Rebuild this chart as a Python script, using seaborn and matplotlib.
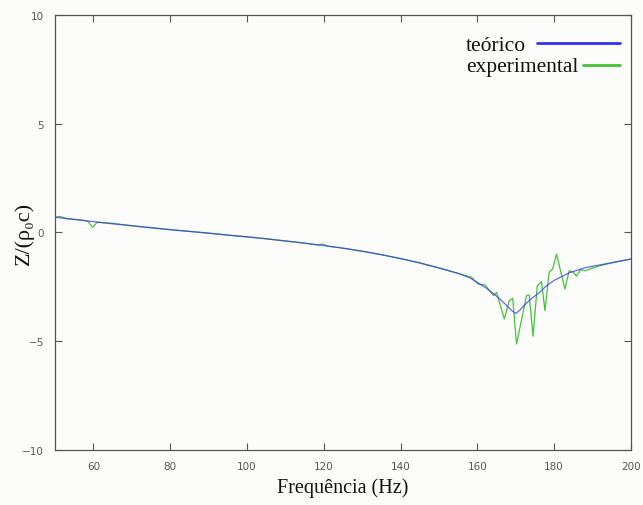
import matplotlib
matplotlib.use("Agg")
import matplotlib.pyplot as plt
import seaborn as sns
import pandas as pd
from matplotlib.lines import Line2D

# theoretical curve
teo_freq = [50, 55, 60, 65, 70, 75, 80, 85, 90, 95, 100, 105, 110, 115, 120,
            125, 130, 135, 140, 145, 150, 155, 158, 160, 162, 164, 166, 168,
            169, 170, 171, 172, 174, 176, 178, 180, 184, 188, 194, 200]
teo_z = [0.70, 0.60, 0.50, 0.40, 0.31, 0.22, 0.13, 0.05, -0.03, -0.12, -0.20,
         -0.29, -0.39, -0.49, -0.60, -0.72, -0.86, -1.02, -1.20, -1.40, -1.63,
         -1.88, -2.08, -2.30, -2.52, -2.78, -3.08, -3.42, -3.60, -3.72, -3.58,
         -3.38, -3.05, -2.78, -2.45, -2.20, -1.85, -1.62, -1.42, -1.22]

# experimental measurement
exp_freq = [50, 51.3, 53, 57, 58.5, 59.8, 61, 63, 65, 70, 75, 80, 85, 90, 95,
            100, 105, 110, 115, 118.5, 119.7, 121, 125, 130, 135, 140, 145,
            150, 155.5, 158.5, 160.2, 162.0, 164.2, 165.0, 167.0, 168.3, 169.2,
            170.2, 172.8, 173.5, 174.5, 175.6, 176.7, 177.6, 178.7, 179.6,
            180.6, 182.8, 183.9, 185.0, 185.8, 186.9, 188.0, 189.3, 192, 196, 200]
exp_z = [0.70, 0.74, 0.64, 0.57, 0.52, 0.24, 0.47, 0.45, 0.42, 0.31, 0.22,
         0.13, 0.05, -0.03, -0.12, -0.20, -0.29, -0.39, -0.49, -0.58, -0.53,
         -0.63, -0.72, -0.86, -1.02, -1.20, -1.40, -1.63, -1.91, -2.06, -2.37,
         -2.41, -2.90, -2.75, -3.98, -3.13, -3.03, -5.13, -2.90, -2.87, -4.77,
         -2.45, -2.26, -3.59, -1.83, -1.68, -0.99, -2.60, -1.76, -1.83, -2.01,
         -1.71, -1.76, -1.68, -1.52, -1.36, -1.22]

teo = pd.DataFrame({"freq": teo_freq, "z": teo_z})
exp = pd.DataFrame({"freq": exp_freq, "z": exp_z})

sns.set_theme(style="ticks")
bg = "#fcfcfa"
fig = plt.figure(figsize=(6.43, 5.06), dpi=100, facecolor=bg)
ax = fig.add_axes([0.0855, 0.1087, 0.8958, 0.8597])
ax.set_facecolor(bg)

green = "#44c23a"
blue = "#3434ee"
sns.lineplot(data=exp, x="freq", y="z", ax=ax, color=green, linewidth=0.9,
             estimator=None, sort=False)
sns.lineplot(data=teo, x="freq", y="z", ax=ax, color=blue, linewidth=0.9,
             alpha=0.75, estimator=None, sort=False)

ax.set_xlim(50, 200)
ax.set_ylim(-10, 10)
ax.set_xticks([60, 80, 100, 120, 140, 160, 180, 200])
ax.set_yticks([-10, -5, 0, 5, 10])
ax.set_yticklabels(["\u221210", "\u22125", "0", "5", "10"])
ax.tick_params(direction="in", length=5, width=0.8, color="#555555",
               labelsize=7.5, labelcolor="#555555", pad=8,
               top=True, right=True)
for s in ax.spines.values():
    s.set_color("#555555")
    s.set_linewidth(0.9)

serif = ["Liberation Serif", "DejaVu Serif"]
ax.set_xlabel("Frequência (Hz)", family=serif, fontsize=14.5, color="#111111")
ax.xaxis.set_label_coords(0.5, -0.062)
ax.set_ylabel("Z/(ρ\u2080c)", family=serif, fontsize=16, color="#111111")
ax.yaxis.set_label_coords(-0.037, 0.5)

# gnuplot-style key, text left and sample line right
ax.text(0.713, 0.931, "teórico", transform=ax.transAxes, family=serif,
        fontsize=15.5, va="center", ha="left", color="#111111")
ax.text(0.713, 0.881, "experimental", transform=ax.transAxes, family=serif,
        fontsize=15.5, va="center", ha="left", color="#111111")
ax.add_line(Line2D([0.837, 0.981], [0.935, 0.935], transform=ax.transAxes,
                   color=blue, linewidth=2))
ax.add_line(Line2D([0.917, 0.981], [0.885, 0.885], transform=ax.transAxes,
                   color=green, linewidth=2))

fig.savefig("out.png", dpi=100, facecolor=bg)
